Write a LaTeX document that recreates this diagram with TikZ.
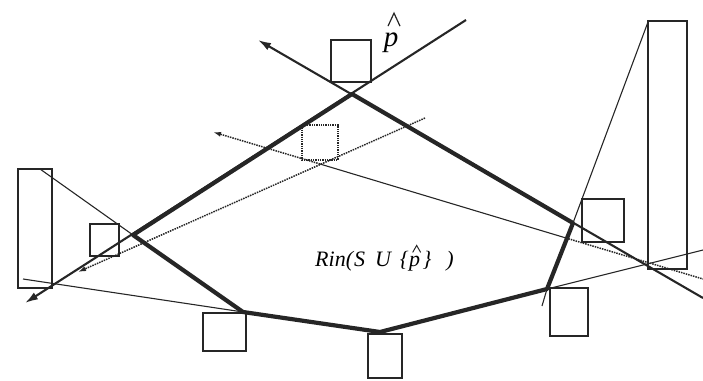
\documentclass[tikz,border=0pt]{standalone}
\usepackage{fontspec}
\setmainfont{Liberation Serif}
\usetikzlibrary{arrows.meta}
\definecolor{inkgray}{HTML}{262626}

\begin{document}
\begin{tikzpicture}[
  x=1pt,y=-1pt,
  hull/.style={line width=4.2pt,inkgray,line join=round},
  ray/.style={line width=2.1pt,inkgray,-{Latex[length=13pt,width=8pt]}},
  guide/.style={line width=1.1pt,inkgray},
  dotline/.style={line width=1.5pt,inkgray,densely dotted},
  dotray/.style={dotline,-{Latex[length=8pt,width=5pt]}},
  cell/.style={draw=inkgray,line width=1.3pt},
  dotcell/.style={draw=inkgray,line width=1.3pt,densely dotted},
  hatline/.style={line width=1.2pt,inkgray,line join=miter},
  rintext/.style={font=\fontsize{22}{22}\selectfont\itshape,inner sep=0pt,anchor=base west}
]
  \useasboundingbox (0,0) rectangle (703,380);

  % corners of the region
  \coordinate (v1) at (352,94);
  \coordinate (v2) at (573,223);
  \coordinate (v3) at (547,289);
  \coordinate (v4) at (380,332);
  \coordinate (v5) at (243,312);
  \coordinate (v6) at (133,235);

  % far ends of the supporting lines
  \coordinate (aend) at (466,20);
  \coordinate (atip) at (25,303);
  \coordinate (bend) at (703,298);
  \coordinate (btip) at (258,40);
  \coordinate (lefttop) at (40,169);
  \coordinate (leftlow) at (23,279);
  \coordinate (rightend) at (703,250);
  \coordinate (righttop) at (648,22);
  \coordinate (rightlow) at (542,306);

  % the two dotted rays
  \coordinate (ctip) at (213,132);
  \coordinate (cmeet) at (320,164);
  \coordinate (cside) at (566,238);
  \coordinate (cend) at (703,279);
  \coordinate (dend) at (425,118);
  \coordinate (dtip) at (78,272);

  % boxes
  \draw[cell] (331,40) rectangle (371,82);
  \draw[cell] (18,169) rectangle (52,288);
  \draw[cell] (90,224) rectangle (119,256);
  \draw[cell] (203,313) rectangle (246,351);
  \draw[cell] (368,334) rectangle (402,378);
  \draw[cell] (582,199) rectangle (624,242);
  \draw[cell] (550,288) rectangle (588,336);
  \draw[cell] (648,21) rectangle (687,269);
  \draw[dotcell] (302,125) rectangle (338,160);

  \draw[guide] (lefttop) -- (v6);
  \draw[guide] (leftlow) -- (v5);
  \draw[guide] (v3) -- (rightend);
  \draw[guide] (righttop) -- (v2);
  \draw[guide] (v3) -- (rightlow);

  \draw[dotray] (cmeet) -- (ctip);
  \draw[guide] (cmeet) -- (cside);
  \draw[dotline] (cside) -- (cend);
  \draw[dotray] (dend) -- (dtip);

  \draw[ray] (aend) -- (atip);
  \draw[ray] (bend) -- (btip);

  \draw[hull] (v1) -- (v2) -- (v3) -- (v4) -- (v5) -- (v6) -- cycle;

  % labels, the hats drawn by hand
  \node[font=\fontsize{29}{29}\selectfont\itshape,inner sep=0pt,anchor=base] (plabel) at (391,46) {p};
  \draw[hatline] ([shift={(-3,-6)}]plabel.north) -- ([shift={(3,-19)}]plabel.north)
    -- ([shift={(9,-6)}]plabel.north);

  \node[rintext] (rinleft) at (315,266) {Rin(\hspace{1pt}S\hspace{10pt}U\hspace{9pt}\{\hspace{6pt}};
  \node[rintext] (rinp) at (rinleft.base east) {p};
  \node[rintext] (rinright) at (rinp.base east) {\hspace{2pt}\}\hspace{15pt})};
  \draw[hatline,line width=1pt] ([shift={(-2,-3)}]rinp.north) -- ([shift={(2,-10)}]rinp.north)
    -- ([shift={(6,-3)}]rinp.north);
\end{tikzpicture}
\end{document}
